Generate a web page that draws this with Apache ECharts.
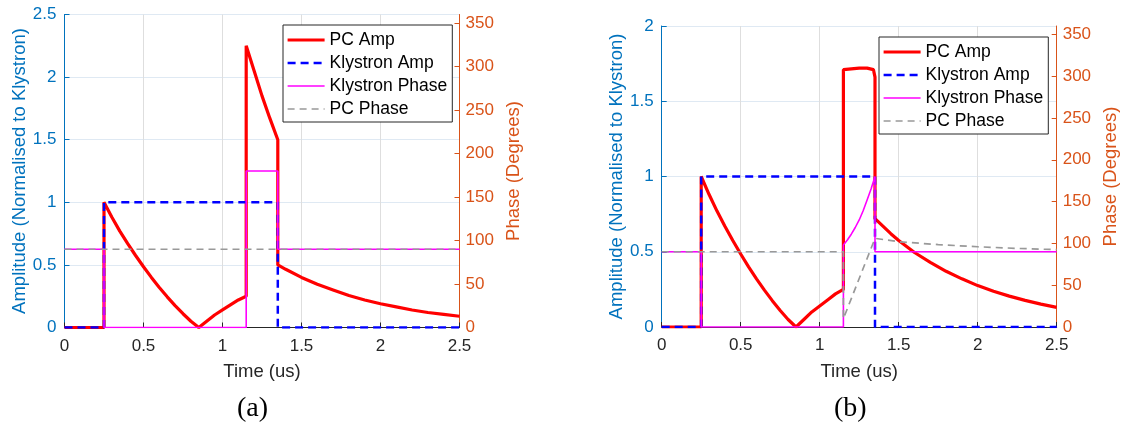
<!DOCTYPE html>
<html>
<head>
<meta charset="utf-8">
<script src="https://cdn.jsdelivr.net/npm/echarts@6/dist/echarts.min.js"></script>
<style>
html,body{margin:0;padding:0;background:#fff;}
#chart{width:1123px;height:432px;}
</style>
</head>
<body>
<div id="chart"></div>
<script>
// ---------- data ----------
const seriesNames = ['PC Amp', 'Klystron Amp', 'Klystron Phase', 'PC Phase'];
const xTicks = [0, 0.5, 1, 1.5, 2, 2.5];
const phaseTicks = [0, 50, 100, 150, 200, 250, 300, 350];

// panel (a)
const aPcAmpT = [0, 0.25, 0.25, 0.30, 0.35, 0.40, 0.45, 0.50, 0.55, 0.60, 0.65, 0.70, 0.75, 0.80, 0.85, 0.90, 0.95, 1.00, 1.05, 1.10, 1.15, 1.15, 1.20, 1.25, 1.30, 1.35, 1.35, 1.40, 1.50, 1.60, 1.70, 1.80, 1.90, 2.00, 2.10, 2.20, 2.30, 2.40, 2.50];
const aPcAmpV = [0, 0, 1.00, 0.88, 0.77, 0.67, 0.575, 0.485, 0.40, 0.32, 0.245, 0.175, 0.11, 0.05, 0.00, 0.05, 0.10, 0.14, 0.18, 0.22, 0.25, 2.25, 2.05, 1.85, 1.67, 1.50, 0.50, 0.465, 0.40, 0.345, 0.30, 0.255, 0.22, 0.19, 0.165, 0.14, 0.12, 0.105, 0.09];
const aKlyAmpT = [0, 0.25, 0.25, 1.35, 1.35, 2.5];
const aKlyAmpV = [0, 0, 1, 1, 0, 0];
const aKlyPhT = [0, 0.25, 0.25, 1.15, 1.15, 1.35, 1.35, 2.5];
const aKlyPhV = [90, 90, 0, 0, 180, 180, 90, 90];
const aPcPhT = [0, 2.5];
const aPcPhV = [90, 90];

// panel (b)
const bPcAmpT = [0, 0.25, 0.25, 0.30, 0.35, 0.40, 0.45, 0.50, 0.55, 0.60, 0.65, 0.70, 0.75, 0.80, 0.85, 0.90, 0.95, 1.00, 1.05, 1.10, 1.15, 1.15, 1.20, 1.25, 1.30, 1.34, 1.35, 1.35, 1.40, 1.45, 1.50, 1.60, 1.70, 1.80, 1.90, 2.00, 2.10, 2.20, 2.30, 2.40, 2.50];
const bPcAmpV = [0, 0, 1.00, 0.88, 0.77, 0.67, 0.575, 0.485, 0.40, 0.32, 0.245, 0.175, 0.11, 0.05, 0.00, 0.05, 0.10, 0.14, 0.18, 0.22, 0.25, 1.71, 1.715, 1.72, 1.72, 1.71, 1.66, 0.72, 0.67, 0.62, 0.575, 0.495, 0.43, 0.37, 0.32, 0.275, 0.237, 0.205, 0.177, 0.152, 0.13];
const bKlyAmpT = [0, 0.25, 0.25, 1.35, 1.35, 2.5];
const bKlyAmpV = [0, 0, 1, 1, 0, 0];
const bKlyPhT = [0, 0.25, 0.25, 1.15, 1.15, 1.175, 1.20, 1.225, 1.25, 1.275, 1.30, 1.325, 1.35, 1.35, 2.5];
const bKlyPhV = [90, 90, 0, 0, 98, 104, 111, 119, 128, 139, 152, 165, 180, 90, 90];
const bPcPhT = [0, 1.15, 1.15, 1.20, 1.25, 1.30, 1.35, 1.50, 1.75, 2.00, 2.25, 2.50];
const bPcPhV = [90, 90, 10, 34, 58, 82, 106, 102, 98.5, 96, 94, 92.5];

// ---------- styling ----------
const FONT = 'Liberation Sans, Arial, Helvetica, sans-serif';
const BLUE_AX = '#0072BD';
const ORANGE_AX = '#D95319';
const DARK = '#262626';
const LINE_STYLES = [
  { color: '#ff0000', width: 3.2, type: 'solid' },
  { color: '#0000ff', width: 2.5, type: [8, 5] },
  { color: '#ff00ff', width: 1.6, type: 'solid' },
  { color: '#999999', width: 1.7, type: [7, 5] }
];

function zip(t, v) { return t.map((x, i) => [x, v[i]]); }

function xAxisFor(gi) {
  return {
    type: 'value', gridIndex: gi, min: 0, max: 2.5, interval: 0.5,
    name: 'Time (us)', nameLocation: 'middle', nameGap: 35,
    nameTextStyle: { fontFamily: FONT, fontSize: 18.5, color: DARK },
    axisLine: { show: true, onZero: false, lineStyle: { color: DARK, width: 1 } },
    axisTick: { show: true, inside: true, length: 5, lineStyle: { color: DARK } },
    axisLabel: { margin: 10, fontFamily: FONT, fontSize: 17, color: DARK },
    splitLine: { show: true, lineStyle: { color: '#dedede', width: 1 } }
  };
}
function leftAxisFor(gi, max) {
  return {
    type: 'value', gridIndex: gi, position: 'left', min: 0, max: max, interval: 0.5,
    name: 'Amplitude (Normalised to Klystron)', nameLocation: 'middle', nameGap: 35,
    nameTextStyle: { fontFamily: FONT, fontSize: 18.5, color: BLUE_AX },
    axisLine: { show: true, onZero: false, lineStyle: { color: BLUE_AX, width: 1 } },
    axisTick: { show: true, inside: true, length: 5, lineStyle: { color: BLUE_AX } },
    axisLabel: { margin: 8, fontFamily: FONT, fontSize: 17, color: BLUE_AX },
    splitLine: { show: true, lineStyle: { color: '#dfe9f3', width: 1 } }
  };
}
function rightAxisFor(gi) {
  return {
    type: 'value', gridIndex: gi, position: 'right', min: 0, max: 360, interval: 50,
    name: 'Phase (Degrees)', nameLocation: 'middle', nameGap: 45,
    nameTextStyle: { fontFamily: FONT, fontSize: 18.5, color: ORANGE_AX },
    axisLine: { show: true, onZero: false, lineStyle: { color: ORANGE_AX, width: 1 } },
    axisTick: { show: true, inside: true, length: 5, lineStyle: { color: ORANGE_AX }, customValues: phaseTicks },
    axisLabel: { margin: 6, fontFamily: FONT, fontSize: 17, color: ORANGE_AX, customValues: phaseTicks },
    splitLine: { show: false }
  };
}
function seriesFor(gi, d) {
  const xi = gi, yl = gi * 2, yr = gi * 2 + 1;
  const pairs = [[d.pcAmpT, d.pcAmpV, yl], [d.klyAmpT, d.klyAmpV, yl], [d.klyPhT, d.klyPhV, yr], [d.pcPhT, d.pcPhV, yr]];
  return pairs.map((p, k) => ({
    name: seriesNames[k], type: 'line', xAxisIndex: xi, yAxisIndex: p[2], data: zip(p[0], p[1]),
    symbol: 'none', lineStyle: Object.assign({}, LINE_STYLES[k]), itemStyle: { color: LINE_STYLES[k].color },
    animation: false
  }));
}
function legendFor(left, top) {
  return {
    data: seriesNames.map((n, k) => ({ name: n, lineStyle: { width: LINE_STYLES[k].width, type: LINE_STYLES[k].type, color: LINE_STYLES[k].color } })),
    orient: 'vertical', left: left, top: top, align: 'left',
    backgroundColor: '#ffffff', borderColor: DARK, borderWidth: 1,
    padding: [6, 5, 4, 3], itemWidth: 37, itemHeight: 14, itemGap: 5, itemTextGap: 4,
    itemStyle: { color: 'rgba(0,0,0,0)', borderColor: 'rgba(0,0,0,0)', borderWidth: 0, opacity: 0 },
    textStyle: { fontFamily: FONT, fontSize: 17.5, color: '#000000' },
    selectedMode: false
  };
}

const chart = echarts.init(document.getElementById('chart'), null, { renderer: 'canvas' });
chart.setOption({
  backgroundColor: '#ffffff',
  animation: false,
  grid: [
    { left: 64.5, right: 1123 - 459.5, top: 14.5, bottom: 432 - 327.5, containLabel: false },
    { left: 661.7, right: 1123 - 1056.7, top: 26, bottom: 432 - 327, containLabel: false }
  ],
  xAxis: [xAxisFor(0), xAxisFor(1)],
  yAxis: [leftAxisFor(0, 2.5), rightAxisFor(0), leftAxisFor(1, 2), rightAxisFor(1)],
  legend: [legendFor(283, 25), legendFor(879, 37)],
  series: [].concat(
    seriesFor(0, { pcAmpT: aPcAmpT, pcAmpV: aPcAmpV, klyAmpT: aKlyAmpT, klyAmpV: aKlyAmpV, klyPhT: aKlyPhT, klyPhV: aKlyPhV, pcPhT: aPcPhT, pcPhV: aPcPhV }),
    seriesFor(1, { pcAmpT: bPcAmpT, pcAmpV: bPcAmpV, klyAmpT: bKlyAmpT, klyAmpV: bKlyAmpV, klyPhT: bKlyPhT, klyPhV: bKlyPhV, pcPhT: bPcPhT, pcPhV: bPcPhV })
  ),
  graphic: [
    { type: 'text', left: 237, top: 395, style: { text: '(a)', fontFamily: 'Liberation Serif, Times New Roman, serif', fontSize: 28, fill: '#000' } },
    { type: 'text', left: 834, top: 395, style: { text: '(b)', fontFamily: 'Liberation Serif, Times New Roman, serif', fontSize: 28, fill: '#000' } }
  ]
});
</script>
</body>
</html>
